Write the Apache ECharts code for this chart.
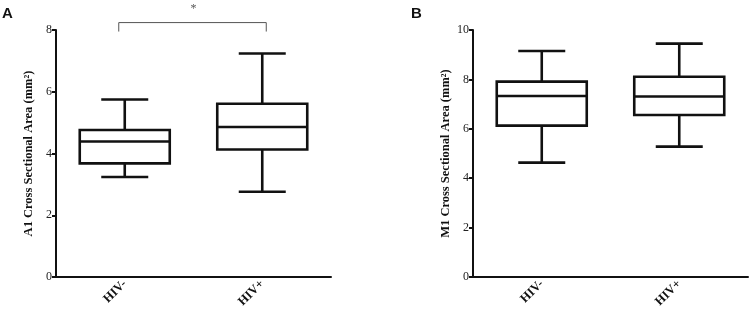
<!DOCTYPE html>
<html>
<head>
<meta charset="utf-8">
<script src="https://cdn.jsdelivr.net/npm/echarts@6/dist/echarts.min.js"></script>
<style>
  html, body { margin: 0; padding: 0; background: #fff; }
  #chart { width: 752px; height: 322px; }
</style>
</head>
<body>
<div id="chart"></div>
<script>
// groups on the x axis
var categories = ['HIV-', 'HIV+'];
// box stats: [min, Q1, median, Q3, max]
var a1Boxes = [
  [3.24, 3.68, 4.39, 4.76, 5.75],
  [2.76, 4.13, 4.86, 5.61, 7.24]
];
var m1Boxes = [
  [4.63, 6.13, 7.33, 7.91, 9.15],
  [5.28, 6.56, 7.31, 8.11, 9.45]
];
var a1Ticks = [0, 2, 4, 6, 8];
var m1Ticks = [0, 2, 4, 6, 8, 10];
// significance bracket for panel A: [from, to, level, label]
var a1Sig = [[0, 1, 8.24, '*']];

var serif = '"Liberation Serif", "DejaVu Serif", serif';
var chart = echarts.init(document.getElementById('chart'));

function toRows(boxes) {
  return boxes.map(function (b, i) { return [i].concat(b); });
}

function renderBox(params, api) {
  var x = api.value(0);
  var pMin = api.coord([x, api.value(1)]);
  var pQ1 = api.coord([x, api.value(2)]);
  var pMed = api.coord([x, api.value(3)]);
  var pQ3 = api.coord([x, api.value(4)]);
  var pMax = api.coord([x, api.value(5)]);
  var cx = pMed[0];
  var half = 45, cap = 23.5;
  var st = { stroke: '#111', lineWidth: 2.6, fill: null };
  return {
    type: 'group',
    children: [
      { type: 'line', shape: { x1: cx, y1: pMin[1], x2: cx, y2: pQ1[1] }, style: st },
      { type: 'line', shape: { x1: cx, y1: pQ3[1], x2: cx, y2: pMax[1] }, style: st },
      { type: 'line', shape: { x1: cx - cap, y1: pMin[1], x2: cx + cap, y2: pMin[1] }, style: st },
      { type: 'line', shape: { x1: cx - cap, y1: pMax[1], x2: cx + cap, y2: pMax[1] }, style: st },
      { type: 'rect', shape: { x: cx - half, y: pQ3[1], width: half * 2, height: pQ1[1] - pQ3[1] }, style: { stroke: '#111', lineWidth: 2.6, fill: '#fff' } },
      { type: 'line', shape: { x1: cx - half, y1: pMed[1], x2: cx + half, y2: pMed[1] }, style: st }
    ]
  };
}

function renderSig(params, api) {
  var p1 = api.coord([api.value(0), api.value(2)]);
  var p2 = api.coord([api.value(1), api.value(2)]);
  var base = api.coord([api.value(0), 7.95]);
  var st = { stroke: '#555', lineWidth: 1, fill: null };
  return {
    type: 'group',
    children: [
      { type: 'polyline', shape: { points: [[p1[0] - 6, base[1]], [p1[0] - 6, p1[1]], [p2[0] + 4, p2[1]], [p2[0] + 4, base[1]]] }, style: st },
      { type: 'text', style: { text: a1Sig[params.dataIndex][3], x: (p1[0] + p2[0]) / 2, y: p1[1] - 14, align: 'center', verticalAlign: 'middle', fill: '#555', font: '12px ' + serif } }
    ]
  };
}

function xAxisCfg(gi) {
  return {
    type: 'category', gridIndex: gi, data: categories, boundaryGap: true,
    axisLine: { lineStyle: { color: '#111', width: 2 } },
    axisTick: { alignWithLabel: true, length: 4, lineStyle: { color: '#111', width: 2 } },
    axisLabel: { rotate: 45, color: '#111', fontFamily: serif, fontWeight: 'bold', fontSize: 12.5, margin: 5 }
  };
}

function yAxisCfg(gi, ticks, name) {
  return {
    type: 'value', gridIndex: gi, min: ticks[0], max: ticks[ticks.length - 1], interval: 2,
    name: name, nameLocation: 'middle', nameGap: 21,
    nameTextStyle: { fontFamily: serif, fontWeight: 'bold', fontSize: 12.5, color: '#111' },
    splitLine: { show: false },
    axisLine: { show: true, lineStyle: { color: '#111', width: 2 } },
    axisTick: { show: true, length: 4, lineStyle: { color: '#111', width: 2 } },
    axisLabel: { color: '#222', fontFamily: serif, fontSize: 12, margin: 4 }
  };
}

chart.setOption({
  backgroundColor: '#fff',
  animation: false,
  grid: [
    { left: 56, top: 30, width: 275, height: 247 },
    { left: 473, top: 30, width: 275, height: 247 }
  ],
  xAxis: [xAxisCfg(0), xAxisCfg(1)],
  yAxis: [
    yAxisCfg(0, a1Ticks, 'A1 Cross Sectional Area (mm²)'),
    yAxisCfg(1, m1Ticks, 'M1 Cross Sectional Area (mm²)')
  ],
  graphic: [
    { type: 'text', left: 2, top: 6, style: { text: 'A', font: 'bold 15px "Liberation Sans", Arial, sans-serif', fill: '#111' } },
    { type: 'text', left: 411, top: 6, style: { text: 'B', font: 'bold 15px "Liberation Sans", Arial, sans-serif', fill: '#111' } }
  ],
  series: [
    { type: 'custom', xAxisIndex: 0, yAxisIndex: 0, renderItem: renderBox, data: toRows(a1Boxes), encode: { x: 0, y: [1, 2, 3, 4, 5] }, z: 3 },
    { type: 'custom', xAxisIndex: 1, yAxisIndex: 1, renderItem: renderBox, data: toRows(m1Boxes), encode: { x: 0, y: [1, 2, 3, 4, 5] }, z: 3 },
    { type: 'custom', xAxisIndex: 0, yAxisIndex: 0, renderItem: renderSig, clip: false, data: a1Sig.map(function (s) { return [s[0], s[1], s[2]]; }), encode: { x: [0, 1], y: 2 } }
  ]
});
</script>
</body>
</html>
